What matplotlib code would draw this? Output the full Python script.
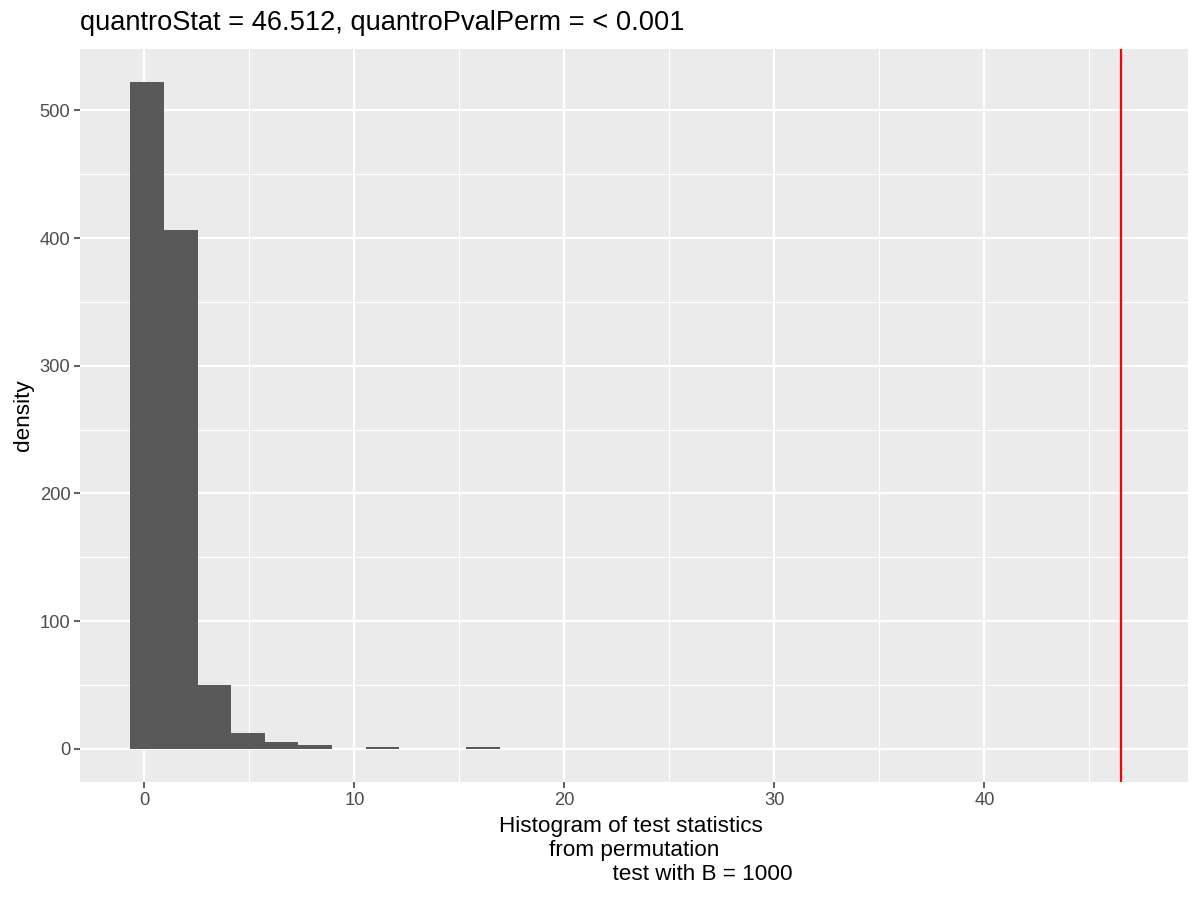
import matplotlib
matplotlib.use("Agg")
import matplotlib.pyplot as plt
import numpy as np

# histogram of permutation test statistics (B = 1000), counts
bin_left = -0.667
bin_width = 1.6
counts = [522, 406, 50, 12, 5, 3, 0, 1, 0, 0, 1]
quantro_stat = 46.512

title = "quantroStat = 46.512, quantroPvalPerm = < 0.001"
xlab = ("Histogram of test statistics \nfrom permutation\n"
        + " " * 22 + "test with B = 1000")
ylab = "density"
xticks = [0, 10, 20, 30, 40]
yticks = [0, 100, 200, 300, 400, 500]

plt.rcParams['font.family'] = ['Liberation Sans', 'DejaVu Sans']

fig = plt.figure(figsize=(12, 9), dpi=100)
ax = fig.add_axes([80 / 1200, 118 / 900, 1108 / 1200, 733 / 900])
ax.set_facecolor("#EBEBEB")

edges = bin_left + bin_width * np.arange(len(counts))
ax.bar(edges, counts, width=bin_width, align="edge", color="#595959",
       linewidth=0, zorder=3)
ax.axvline(quantro_stat, color="red", linewidth=1.6, zorder=4)

ax.set_xticks(xticks)
ax.set_yticks(yticks)
ax.set_xticks([5, 15, 25, 35, 45], minor=True)
ax.set_yticks([50, 150, 250, 350, 450], minor=True)
ax.set_xlim(-3.07, 49.7)
ax.set_ylim(-26.1, 548.1)
ax.grid(which="major", color="white", linewidth=1.6, zorder=0)
ax.grid(which="minor", color="white", linewidth=0.8, zorder=0)
ax.set_axisbelow(True)
for s in ax.spines.values():
    s.set_visible(False)

ax.tick_params(which="major", length=4, width=1.1, color="#333333",
               labelsize=13.2, labelcolor="#4D4D4D", pad=3)
ax.tick_params(which="minor", length=0)

ax.set_title(title, loc="left", fontsize=19.6, pad=14)
ax.set_xlabel(xlab, fontsize=16.2, labelpad=5, linespacing=1.2)
ax.set_ylabel(ylab, fontsize=16.2, labelpad=4)

fig.savefig("out.png", dpi=100)
